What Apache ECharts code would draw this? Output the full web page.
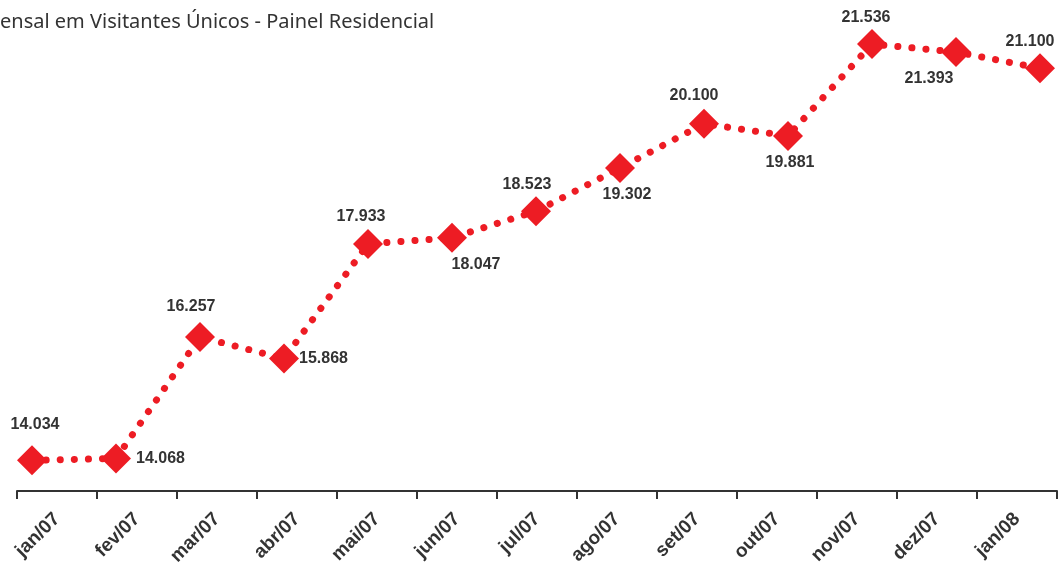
<!DOCTYPE html>
<html>
<head>
<meta charset="utf-8">
<script src="https://cdn.jsdelivr.net/npm/echarts@6/dist/echarts.min.js"></script>
<style>
  html, body { margin: 0; padding: 0; background: #fff; }
  #chart { width: 1061px; height: 578px; }
</style>
</head>
<body>
<div id="chart"></div>
<script>
// meses
const meses = ['jan/07', 'fev/07', 'mar/07', 'abr/07', 'mai/07', 'jun/07', 'jul/07',
  'ago/07', 'set/07', 'out/07', 'nov/07', 'dez/07', 'jan/08'];
// visitantes unicos (milhares)
const visitantes = [14.034, 14.068, 16.257, 15.868, 17.933, 18.047, 18.523,
  19.302, 20.100, 19.881, 21.536, 21.393, 21.100];

// onde fica cada rotulo (posicao + deslocamento)
const rotulos = [
  ['top', [3, -9]], ['right', [1, 0]], ['top', [-9, -3]], ['right', [-4, 0]],
  ['top', [-7, 0]], ['bottom', [24, 0]], ['top', [-9, 0]], ['bottom', [7, 0]],
  ['top', [-10, -1]], ['bottom', [2, 0]], ['top', [-6, 1]], ['bottom', [-27, 0]],
  ['top', [-10, 0]]
];

const chart = echarts.init(document.getElementById('chart'));

const yBase = { type: 'value', show: false, min: 13.5, max: 22.33 };

chart.setOption({
  animation: false,
  title: {
    text: 'ensal em Visitantes Únicos - Painel Residencial',
    left: -5,
    top: 7,
    textStyle: { fontFamily: 'Noto Sans', fontWeight: 'normal', fontSize: 20, color: '#333' }
  },
  grid: [
    { left: 17, right: 4, top: 0, bottom: 87 },  // eixo com os meses
    { left: 32, right: 21, top: 0, bottom: 88 }  // serie
  ],
  xAxis: [
    {
      type: 'category',
      gridIndex: 0,
      data: meses,
      boundaryGap: true,
      axisLine: { lineStyle: { color: '#333', width: 2 } },
      axisTick: { show: true, length: 8, lineStyle: { color: '#333', width: 2 } },
      axisLabel: {
        rotate: 45,
        margin: 25,
        interval: 0,
        fontFamily: 'Liberation Sans',
        fontWeight: 'bold',
        fontSize: 19,
        color: '#333'
      }
    },
    {
      type: 'category',
      gridIndex: 1,
      data: meses,
      boundaryGap: false,
      show: false
    }
  ],
  yAxis: [
    Object.assign({ gridIndex: 0 }, yBase),
    Object.assign({ gridIndex: 1 }, yBase)
  ],
  series: [
    {
      type: 'line',
      xAxisIndex: 1,
      yAxisIndex: 1,
      data: visitantes.map((v, i) => ({
        value: v,
        label: { position: rotulos[i][0], offset: rotulos[i][1] }
      })),
      symbol: 'diamond',
      symbolSize: 30,
      itemStyle: { color: '#ED1C24' },
      lineStyle: { color: '#ED1C24', width: 7, type: [0.1, 14], cap: 'round' },
      label: {
        show: true,
        distance: 4,
        fontFamily: 'Liberation Sans',
        fontWeight: 'bold',
        fontSize: 16,
        color: '#333',
        formatter: p => p.value.toFixed(3)
      }
    }
  ]
});
</script>
</body>
</html>
